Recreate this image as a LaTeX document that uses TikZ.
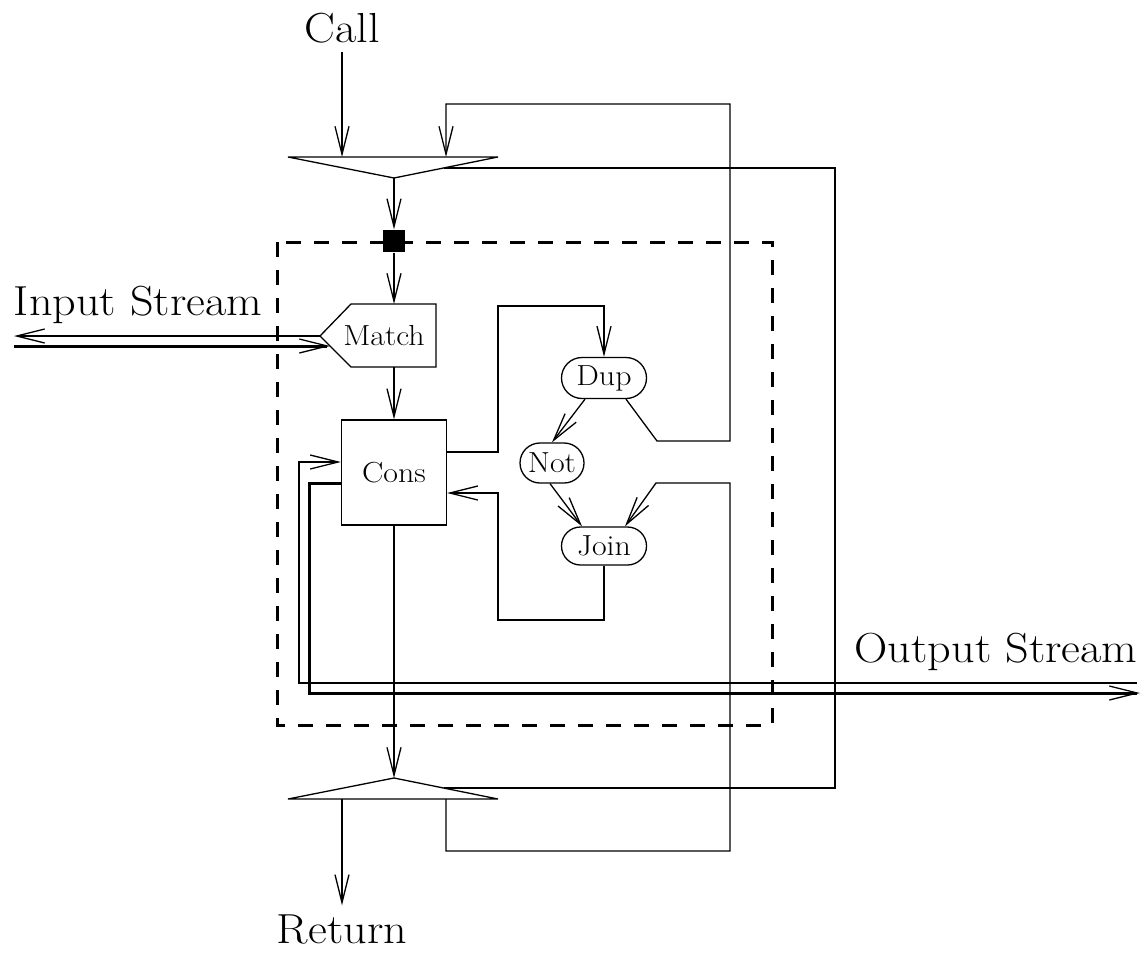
\documentclass[tikz,border=0pt]{standalone}
\usetikzlibrary{arrows.meta,shapes.misc}
\newcommand\hwide[1]{\scalebox{1.1}[1]{#1}}
\begin{document}
\begin{tikzpicture}[x=1pt,y=-1pt,line width=1.3pt,line join=miter,
  arr/.style={-{Straight Barb[length=28pt,width=14pt,line width=1.3pt]}},
  heavy/.style={line width=3pt},
  lbl/.style={font=\fontsize{42}{48}\selectfont,inner sep=0pt,outer sep=9pt},
  sml/.style={font=\fontsize{29}{32}\selectfont,inner sep=0pt},
  opbox/.style={draw,rounded rectangle,inner sep=0pt,font=\fontsize{29}{32}\selectfont},
  frame/.style={line width=3pt,dash pattern=on 15pt off 13pt}]
\useasboundingbox (0,0) rectangle (1146,953);

% labels
\node[lbl,anchor=base] (call) at (342,42) {\hwide{Call}};
\node[lbl,anchor=base] (ret) at (342,943) {\hwide{Return}};
\node[lbl,anchor=base] (instr) at (138,315) {\hwide{Input Stream}};
\node[lbl,anchor=base] (outstr) at (996,662) {\hwide{Output Stream}};

% dashed frame
\draw[frame] (277,242) rectangle (772,725);

% top merge triangle
\coordinate (tl) at (288,157);
\coordinate (tr) at (498,157);
\coordinate (tapex) at (394,178);
\coordinate (in1) at (342,157);
\coordinate (in2) at (446,157);
\coordinate (tside) at (444,168);
\draw (tl) -- (tr) -- (tapex) -- cycle;

% bottom triangle
\coordinate (bl) at (288,799);
\coordinate (br) at (498,799);
\coordinate (bapex) at (394,778);
\coordinate (out1) at (342,799);
\coordinate (out2) at (446,799);
\coordinate (bside) at (444,788);
\draw (bl) -- (br) -- (bapex) -- cycle;

% black square
\node[fill=black,minimum size=22pt,inner sep=0pt] (sq) at (394,241) {};

% Match
\node[sml] (match) at (384,336) {\hwide{Match}};
\coordinate (mtip) at (320,336);
\coordinate (mtop) at (394,304);
\coordinate (mbot) at (394,367);
\coordinate (min) at (330,346);
\draw (351,304) -- (436,304) -- (436,367) -- (351,367) -- (mtip) -- cycle;

% Cons
\node[draw,minimum width=105pt,minimum height=105pt,inner sep=0pt,
      font=\fontsize{29}{32}\selectfont] (cons) at (394,472.5) {\hwide{Cons}};

% Dup Not Join
\node[opbox,minimum width=85pt,minimum height=41pt] (dup) at (604,378) {\hwide{Dup}};
\node[opbox,minimum width=64pt,minimum height=40pt] (not) at (552,463) {\hwide{Not}};
\node[opbox,minimum width=85pt,minimum height=38pt] (join) at (604,546) {\hwide{Join}};

% free ends
\coordinate (inL1) at (14,336);
\coordinate (inL2) at (14,346);
\coordinate (outR1) at (1137,683);
\coordinate (outR2) at (1140,693);

% connectors
\draw[arr] (call) -- (in1);
\draw[arr] (tapex) -- (sq.north);
\draw[arr] (sq.south) -- (mtop);
\draw[arr] (mbot) -- (cons.north);
\draw[arr] (cons.south) -- (bapex);
\draw[arr] (out1) -- (ret);

\draw[arr] (mtip) -- (inL1);
\draw[heavy,arr] (inL2) -- (min);

\draw (tside) -- (835,168) -- (835,788) -- (bside);

\draw[arr] ([xshift=22pt]dup.south) -- (657,441) -- (730,441) -- (730,104) -- (446,104) -- (in2);
\draw[arr] ([xshift=-19pt]dup.south) -- (not.north);
\draw[arr] ([xshift=-2pt]not.south) -- ([xshift=-22pt]join.north);
\draw[arr] (out2) -- (446,851) -- (730,851) -- (730,483) -- (656,483) -- ([xshift=21pt]join.north);
\draw[arr] (join.south) -- (604,620) -- (498,620) -- (498,493) -- ([yshift=-20.5pt]cons.east);
\draw[arr] ([yshift=20.5pt]cons.east) -- (498,452) -- (498,306) -- (604,306) -- (dup.north);

\draw[arr] (outR1) -- (299,683) -- (299,462) -- ([yshift=10.5pt]cons.west);
\draw[heavy,arr] ([yshift=-10.5pt]cons.west) -- (309,483) -- (309,693) -- (outR2);
\end{tikzpicture}
\end{document}
